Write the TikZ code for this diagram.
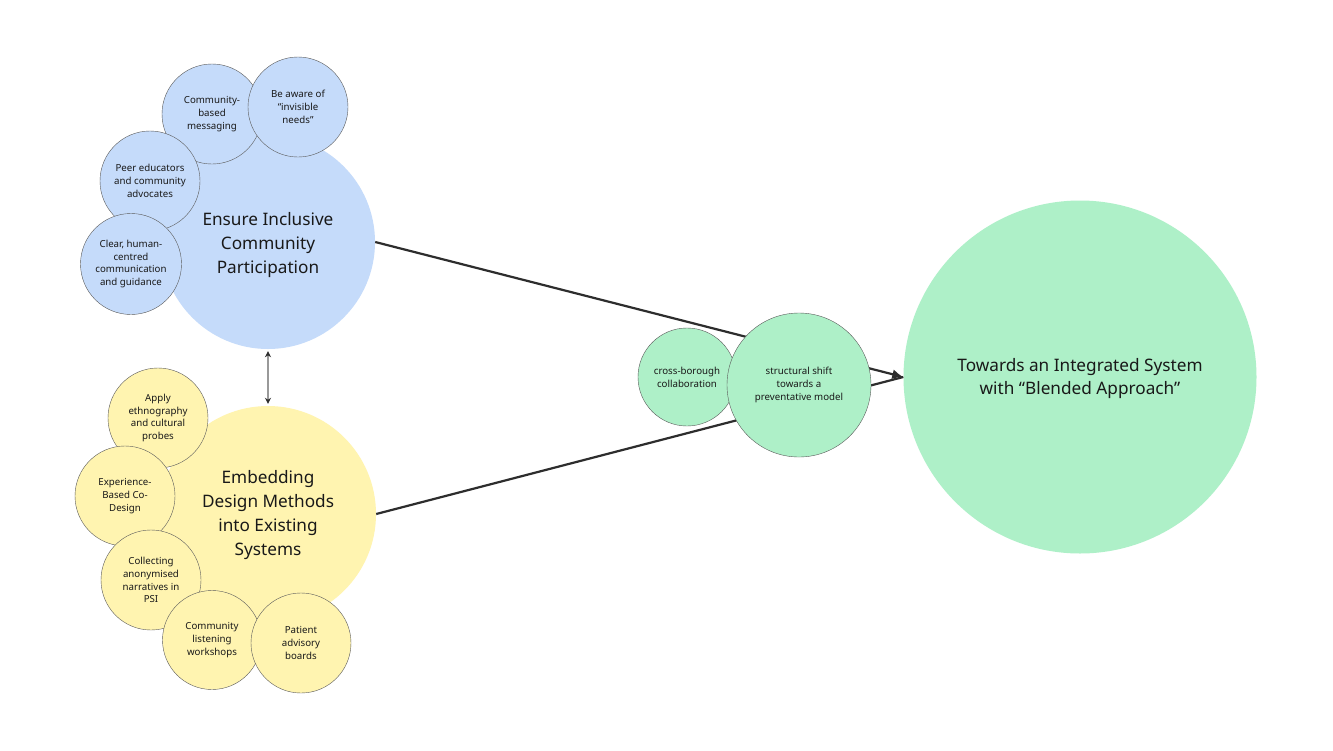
\documentclass[tikz,border=0pt]{standalone}
\usepackage{fontspec}
\setmainfont{Noto Sans}
\usetikzlibrary{arrows.meta}
\definecolor{bluef}{RGB}{197,219,250}
\definecolor{yellf}{RGB}{255,244,176}
\definecolor{greenf}{RGB}{174,240,200}
\definecolor{edgec}{RGB}{90,90,90}
\definecolor{txt}{RGB}{25,25,25}
\definecolor{linec}{RGB}{45,45,45}
\begin{document}
\begin{tikzpicture}[x=1pt,y=-1pt,
  bigc/.style={circle,inner sep=0pt,minimum size=#1},
  smallc/.style={circle,inner sep=0pt,minimum size=#1,draw=edgec,line width=0.4pt,text=txt,align=center,font=\fontsize{9.7}{12.8}\selectfont},
  bigt/.style={text=txt,align=center,font=\fontsize{17.2}{24}\selectfont},
  conn/.style={draw=linec,line width=2.2pt},
]
\useasboundingbox[fill=white] (0,0) rectangle (1333,750);
% main circles
\node[bigc=214pt,fill=bluef] (ensure) at (268,242) {};
\node[bigc=216pt,fill=yellf] (embed) at (268,514) {};
\node[bigc=353pt,fill=greenf] (goal) at (1080,377) {};
\node[bigt,font=\fontsize{17.2}{23}\selectfont] (goalt) at (1080,379) {Towards an Integrated System\\with “Blended Approach”};
% connectors
\draw[conn,-{Latex[length=11pt,width=10pt]}] (ensure.east) -- (goal.west);
\draw[conn] (embed.east) -- (goal.west);
% blue satellites
\node[smallc=100pt,fill=bluef] (cbm) at (212,114) {Community-\\based\\messaging};
\node[smallc=100pt,fill=bluef] (aware) at (298,107) {Be aware of\\“invisible\\needs”};
\node[smallc=100pt,fill=bluef] (peer) at (150,181) {Peer educators\\and community\\advocates};
\node[smallc=101pt,fill=bluef] (clear) at (131,264) {Clear, human-\\centred\\communication\\and guidance};
\node[bigt] (ensuret) at (268,245) {Ensure Inclusive\\Community\\Participation};
% yellow satellites
\node[smallc=100pt,fill=yellf] (ethno) at (158,418) {Apply\\ethnography\\and cultural\\probes};
\node[smallc=100pt,fill=yellf] (ebcd) at (125,496) {Experience-\\Based Co-\\Design};
\node[smallc=100pt,fill=yellf] (narr) at (151,580) {Collecting\\anonymised\\narratives in\\PSI};
\node[smallc=99pt,fill=yellf] (listen) at (212,640) {Community\\listening\\workshops};
\node[smallc=100pt,fill=yellf] (patient) at (301,643) {Patient\\advisory\\boards};
\node[bigt] (embedt) at (268,515) {Embedding\\Design Methods\\into Existing\\Systems};
% green satellites
\node[smallc=98pt,fill=greenf] (cross) at (687,377) {cross-borough\\collaboration};
\node[smallc=144pt,fill=greenf] (shift) at (799,385) {structural shift\\towards a\\preventative model};
% double arrow
\draw[draw=gray!80,line width=1.3pt,{Stealth[length=6pt,width=6pt,color=linec]}-{Stealth[length=6pt,width=6pt,color=linec]}] ([yshift=-2pt]ensure.south) -- ([yshift=2pt]embed.north);
\end{tikzpicture}
\end{document}
